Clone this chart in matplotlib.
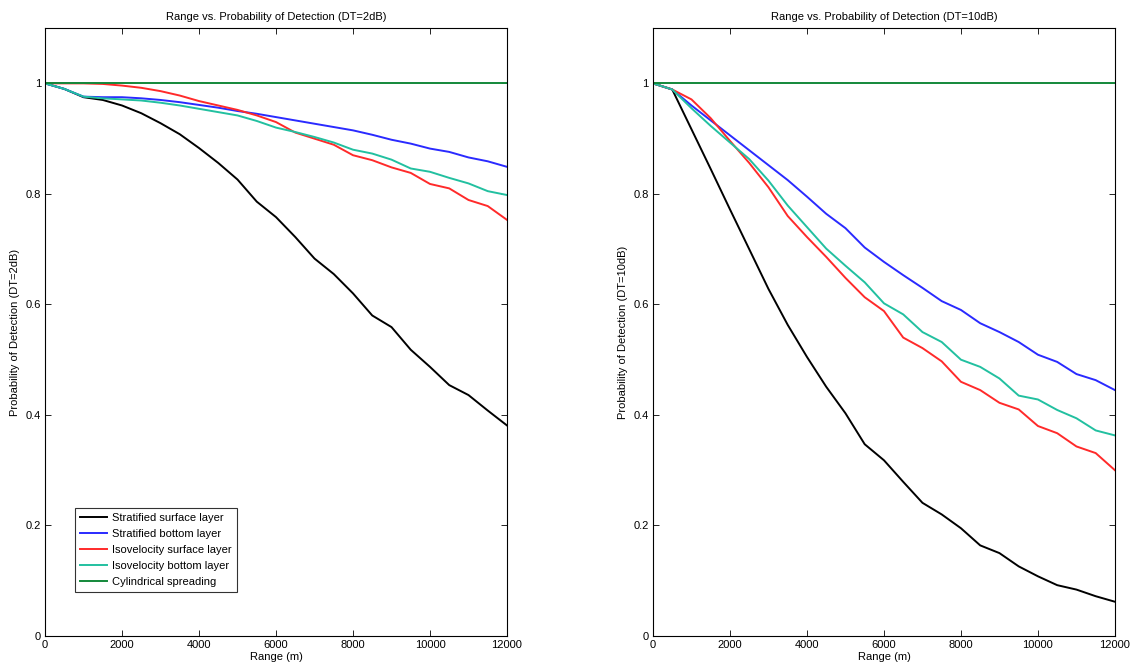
import numpy as np
import matplotlib
matplotlib.use('Agg')
import matplotlib.pyplot as plt

plt.rcParams['font.family'] = ['Liberation Sans', 'DejaVu Sans']
plt.rcParams['font.size'] = 8

# range in metres, one sample every 500 m
rng = np.arange(0, 12001, 500)

# DT = 2 dB
strat_surf_2 = [1.0, 0.99, 0.975, 0.970, 0.960, 0.946, 0.928, 0.908, 0.883, 0.856, 0.826, 0.786, 0.758,
                0.722, 0.683, 0.655, 0.620, 0.580, 0.559, 0.518, 0.487, 0.454, 0.436, 0.408, 0.381]
strat_bot_2 = [1.0, 0.99, 0.976, 0.975, 0.975, 0.973, 0.970, 0.966, 0.961, 0.956, 0.950, 0.945, 0.939,
               0.933, 0.927, 0.921, 0.915, 0.907, 0.898, 0.891, 0.882, 0.876, 0.866, 0.859, 0.849]
iso_surf_2 = [1.0, 1.0, 1.0, 0.999, 0.996, 0.992, 0.986, 0.978, 0.968, 0.960, 0.952, 0.942, 0.930,
              0.911, 0.900, 0.889, 0.870, 0.861, 0.848, 0.838, 0.818, 0.810, 0.789, 0.778, 0.753]
iso_bot_2 = [1.0, 0.99, 0.976, 0.973, 0.971, 0.969, 0.965, 0.960, 0.954, 0.948, 0.942, 0.932, 0.920,
             0.912, 0.903, 0.893, 0.880, 0.873, 0.862, 0.846, 0.840, 0.829, 0.819, 0.805, 0.798]

# DT = 10 dB
strat_surf_10 = [1.0, 0.989, 0.917, 0.845, 0.772, 0.700, 0.628, 0.563, 0.505, 0.451, 0.403, 0.347, 0.318,
                 0.279, 0.241, 0.220, 0.195, 0.164, 0.150, 0.126, 0.108, 0.092, 0.084, 0.072, 0.062]
strat_bot_10 = [1.0, 0.989, 0.960, 0.933, 0.906, 0.879, 0.852, 0.825, 0.795, 0.764, 0.738, 0.703, 0.677,
                0.653, 0.630, 0.606, 0.590, 0.566, 0.550, 0.532, 0.509, 0.496, 0.474, 0.463, 0.445]
iso_surf_10 = [1.0, 0.989, 0.971, 0.937, 0.896, 0.856, 0.812, 0.760, 0.722, 0.686, 0.648, 0.613, 0.588,
               0.540, 0.521, 0.497, 0.460, 0.445, 0.422, 0.410, 0.380, 0.367, 0.343, 0.331, 0.300]
iso_bot_10 = [1.0, 0.989, 0.955, 0.923, 0.893, 0.863, 0.824, 0.779, 0.740, 0.701, 0.670, 0.640, 0.602,
              0.582, 0.550, 0.532, 0.500, 0.487, 0.466, 0.435, 0.428, 0.409, 0.394, 0.372, 0.363]

cyl = [1.0] * len(rng)

labels = ['Stratified surface layer', 'Stratified bottom layer', 'Isovelocity surface layer',
          'Isovelocity bottom layer', 'Cylindrical spreading']
colors = ['black', '#2a2aff', '#ff2a2a', '#22c0a0', '#13883a']

fig = plt.figure(figsize=(11.37, 6.68), dpi=100)
ax1 = fig.add_axes([0.0396, 0.0479, 0.4063, 0.910])
ax2 = fig.add_axes([0.5743, 0.0479, 0.4063, 0.910])

panels = [
    (ax1, [strat_surf_2, strat_bot_2, iso_surf_2, iso_bot_2, cyl], '2dB'),
    (ax2, [strat_surf_10, strat_bot_10, iso_surf_10, iso_bot_10, cyl], '10dB'),
]

for ax, series, dt in panels:
    for s, c, lab in zip(series, colors, labels):
        ax.plot(rng, s, color=c, lw=1.4, label=lab)
    ax.set_xlim(0, 12000)
    ax.set_ylim(0, 1.1)
    ax.set_xticks(np.arange(0, 12001, 2000))
    ax.set_yticks([0, 0.2, 0.4, 0.6, 0.8, 1])
    ax.set_yticklabels(['0', '0.2', '0.4', '0.6', '0.8', '1'])
    ax.tick_params(direction='in', top=True, right=True, length=4, width=0.6, labelsize=8, pad=3)
    for sp in ax.spines.values():
        sp.set_linewidth(0.8)
    ax.set_title('Range vs. Probability of Detection (DT=%s)' % dt, fontsize=8, pad=6)
    ax.set_xlabel('Range (m)', fontsize=8, labelpad=1)
    ax.set_ylabel('Probability of Detection (DT=%s)' % dt, fontsize=8, labelpad=4)

leg = ax1.legend(loc='lower left', bbox_to_anchor=(0.065, 0.072), fontsize=8, frameon=True,
                 fancybox=False, handlelength=2.4, handletextpad=0.5, labelspacing=0.55,
                 borderpad=0.45, borderaxespad=0)
leg.get_frame().set_edgecolor('black')
leg.get_frame().set_linewidth(0.8)

plt.savefig('out.png', dpi=100)
